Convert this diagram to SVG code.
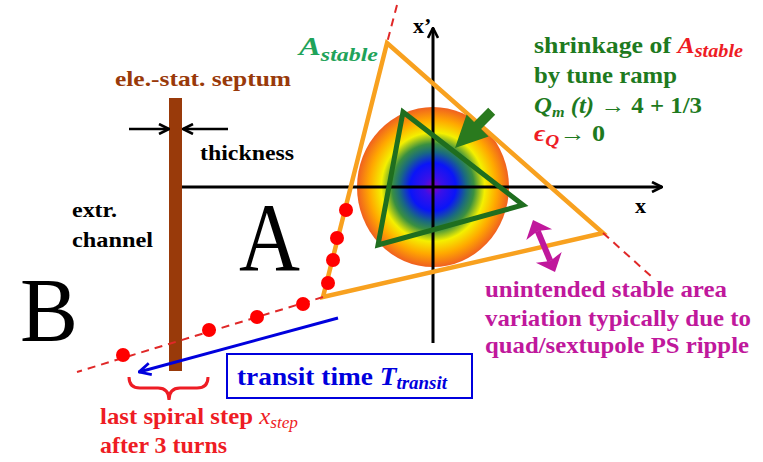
<svg xmlns="http://www.w3.org/2000/svg" width="763" height="462" viewBox="0 0 763 462">
<defs>
<radialGradient id="beam" cx="0.5" cy="0.5" r="0.5">
<stop offset="0" stop-color="#8a00c0"/>
<stop offset="0.12" stop-color="#3a10e8"/>
<stop offset="0.3" stop-color="#0a14f8"/>
<stop offset="0.44" stop-color="#1a6a80"/>
<stop offset="0.54" stop-color="#3a9040"/>
<stop offset="0.68" stop-color="#f4f000"/>
<stop offset="0.84" stop-color="#ffa800"/>
<stop offset="1" stop-color="#f06020"/>
</radialGradient>
<marker id="chev" viewBox="0 0 12 12" refX="11" refY="6" markerWidth="12" markerHeight="12" markerUnits="userSpaceOnUse" orient="auto">
<path d="M1,1 L11,6 L1,11" fill="none" stroke="#000" stroke-width="2.6"/>
</marker>
<marker id="chevBlue" viewBox="0 0 12 12" refX="11" refY="6" markerWidth="14" markerHeight="14" markerUnits="userSpaceOnUse" orient="auto">
<path d="M1,1 L11,6 L1,11" fill="none" stroke="#0000dd" stroke-width="2.4"/>
</marker>
</defs>
<style>
text{font-family:"Liberation Serif","Times New Roman",serif;font-weight:bold}
text.big{font-weight:normal}
.it{font-style:italic}
.nw{font-weight:normal}
.red{fill:#ee1c24}
.grn{fill:#1e7a1e}
.mag{fill:#c0189c}
.dash{stroke:#e02828;stroke-width:2;stroke-dasharray:8 6;fill:none}
.dot{fill:#ff0000}
</style>
<rect width="763" height="462" fill="#ffffff"/>

<g id="beam-core">
<ellipse cx="433" cy="187" rx="76" ry="80" fill="url(#beam)"/>
</g>

<g id="axes">
<line x1="182" y1="187" x2="662" y2="187" stroke="#000" stroke-width="3" marker-end="url(#chev)"/>
<line x1="433" y1="343" x2="433" y2="28" stroke="#000" stroke-width="3" marker-end="url(#chev)"/>
<text x="635" y="213" font-size="22">x</text>
<text x="413" y="33" font-size="22">x’</text>
</g>

<g id="septum">
<rect x="169" y="98" width="13" height="273" fill="#993a0a"/>
<text x="115" y="86" font-size="22" fill="#993a0a" textLength="176" lengthAdjust="spacingAndGlyphs">ele.-stat. septum</text>
<line x1="129" y1="129" x2="169" y2="129" stroke="#000" stroke-width="2.6" marker-end="url(#chev)"/>
<line x1="228" y1="129" x2="183" y2="129" stroke="#000" stroke-width="2.6" marker-end="url(#chev)"/>
<text x="200" y="160" font-size="22" textLength="94" lengthAdjust="spacingAndGlyphs">thickness</text>
</g>

<g id="stable-area">
<polygon points="387,43 603,233 323,297" fill="none" stroke="#f8a11f" stroke-width="4.5" stroke-linejoin="miter"/>
<text x="299" y="55" font-size="26" fill="#1fa35a" textLength="79" lengthAdjust="spacingAndGlyphs"><tspan class="it">A</tspan><tspan class="it" font-size="19" dy="6">stable</tspan></text>
</g>

<g id="shrunk-area">
<polygon points="403,112 523,205 378,245" fill="none" stroke="#1f6e1f" stroke-width="5" stroke-linejoin="miter"/>
<polygon points="488.2,107.8 474.1,121.9 466.6,114.4 455,148 488.6,136.4 481.1,128.9 495.2,114.8" fill="#2a7a1e"/>
</g>

<g id="connectors">
<line class="dash" x1="397" y1="5" x2="387" y2="43"/>
<line class="dash" x1="603" y1="233" x2="652" y2="277"/>
<line class="dash" x1="323" y1="297" x2="77" y2="372"/>
<line x1="338" y1="318" x2="139" y2="372" stroke="#0000dd" stroke-width="3" marker-end="url(#chevBlue)"/>
<line x1="537.7" y1="231" x2="550.3" y2="261" stroke="#c0189c" stroke-width="6"/>
<polygon points="533,220 552.1,229.3 537.7,231 526.3,240.1" fill="#c0189c"/>
<polygon points="555,272 561.7,251.9 550.3,261 535.9,262.7" fill="#c0189c"/>
<path d="M129,377 Q129,388 140,388 L158,388 Q169,388 169,400 Q169,388 180,388 L197,388 Q208,388 208,377" fill="none" stroke="#ee1c24" stroke-width="3"/>
</g>

<g id="spiral-steps">
<circle class="dot" cx="123" cy="355" r="7"/>
<circle class="dot" cx="209" cy="330" r="7"/>
<circle class="dot" cx="257" cy="317" r="7"/>
<circle class="dot" cx="303" cy="304" r="7"/>
<circle class="dot" cx="328" cy="283" r="7"/>
<circle class="dot" cx="333" cy="260" r="7"/>
<circle class="dot" cx="337" cy="238" r="7"/>
<circle class="dot" cx="346" cy="210" r="7"/>
</g>

<g id="labels">
<text x="72" y="217" font-size="22" textLength="45" lengthAdjust="spacingAndGlyphs">extr.</text>
<text x="72" y="247" font-size="22" textLength="81" lengthAdjust="spacingAndGlyphs">channel</text>
<text class="big" x="239" y="270" font-size="98" textLength="61" lengthAdjust="spacingAndGlyphs">A</text>
<text class="big" x="20" y="341" font-size="92" textLength="58" lengthAdjust="spacingAndGlyphs">B</text>
</g>

<g id="shrinkage-note">
<text x="534" y="53" font-size="23" class="grn" textLength="209" lengthAdjust="spacingAndGlyphs">shrinkage of <tspan class="it red">A</tspan><tspan class="it red" font-size="18" dy="4">stable</tspan></text>
<text x="534" y="83" font-size="23" class="grn" textLength="143" lengthAdjust="spacingAndGlyphs">by tune ramp</text>
<text x="534" y="113" font-size="23" class="grn" textLength="168" lengthAdjust="spacingAndGlyphs"><tspan class="it">Q</tspan><tspan class="it" font-size="15" dy="4">m</tspan><tspan class="it" dy="-4"> (t) </tspan>→ 4 + 1/3</text>
<text x="534" y="141" font-size="23" class="grn" textLength="71" lengthAdjust="spacingAndGlyphs"><tspan class="it red">ϵ</tspan><tspan class="it red" font-size="17" dy="5">Q</tspan><tspan dy="-5">→ 0</tspan></text>
</g>

<g id="ripple-note">
<text x="485" y="297" font-size="24" class="mag" textLength="242" lengthAdjust="spacingAndGlyphs">unintended stable area</text>
<text x="485" y="326" font-size="24" class="mag" textLength="266" lengthAdjust="spacingAndGlyphs">variation typically due to</text>
<text x="485" y="353" font-size="24" class="mag" textLength="264" lengthAdjust="spacingAndGlyphs">quad/sextupole PS ripple</text>
</g>

<g id="transit-box">
<rect x="227" y="354" width="245" height="44" fill="#ffffff" stroke="#0000dd" stroke-width="2"/>
<text x="237" y="385" font-size="26" fill="#0000dd" textLength="210" lengthAdjust="spacingAndGlyphs">transit time <tspan class="it">T</tspan><tspan class="it" font-size="18" dy="4">transit</tspan></text>
</g>

<g id="step-note">
<text x="100" y="424" font-size="23" class="red" textLength="198" lengthAdjust="spacingAndGlyphs">last spiral step <tspan class="it nw">x</tspan><tspan class="it nw" font-size="16" dy="4">step</tspan></text>
<text x="100" y="453" font-size="23" class="red" textLength="127" lengthAdjust="spacingAndGlyphs">after 3 turns</text>
</g>
</svg>
